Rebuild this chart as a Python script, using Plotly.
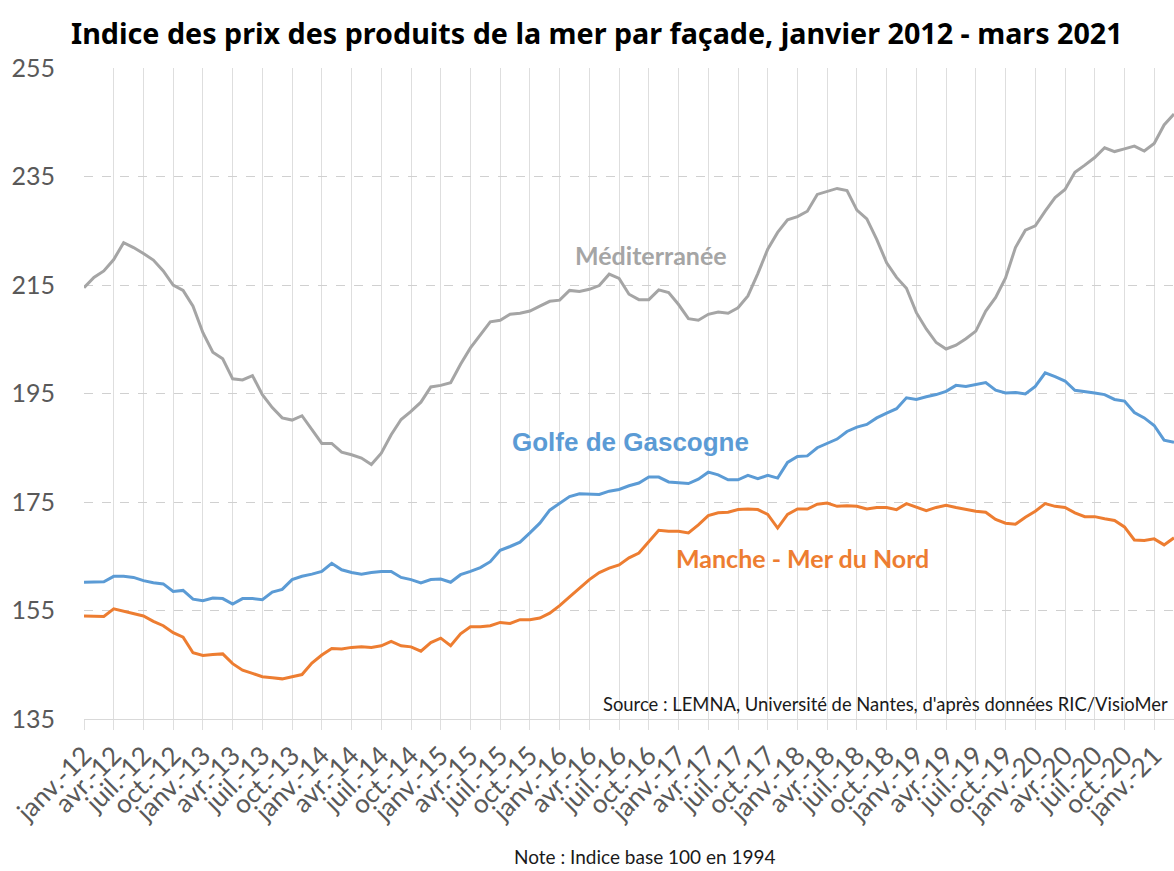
import plotly.graph_objects as go

# Monthly values, janvier 2012 -> mars 2021 (111 months)
mediterranee = [
    214.5, 216.4, 217.6, 219.7, 222.8, 221.9, 220.8, 219.6, 217.6, 215.0,
    214.0, 211.1, 206.2, 202.6, 201.4, 197.7, 197.5, 198.3, 194.8, 192.4,
    190.5, 190.1, 190.9, 188.4, 185.8, 185.8, 184.2, 183.7, 183.1, 181.9,
    184.0, 187.4, 190.2, 191.7, 193.4, 196.2, 196.5, 197.0, 200.4, 203.4,
    205.9, 208.2, 208.5, 209.6, 209.8, 210.2, 211.1, 212.0, 212.2, 214.0,
    213.8, 214.2, 214.9, 217.0, 216.2, 213.3, 212.3, 212.3, 214.1, 213.6,
    211.4, 208.8, 208.5, 209.6, 210.0, 209.8, 210.8, 213.0, 217.1, 221.6,
    224.7, 227.0, 227.6, 228.6, 231.7, 232.2, 232.8, 232.4, 228.8, 227.2,
    223.4, 219.1, 216.4, 214.4, 209.9, 206.9, 204.4, 203.2, 203.9, 205.1,
    206.5, 210.2, 212.7, 216.3, 221.9, 225.1, 225.9, 228.6, 231.1, 232.6,
    235.8, 237.1, 238.5, 240.3, 239.6, 240.1, 240.6, 239.7, 241.1, 244.5,
    246.5,
]

golfe_gascogne = [
    160.2, 160.2, 160.3, 161.3, 161.3, 161.1, 160.5, 160.1, 159.9, 158.5,
    158.7, 157.1, 156.8, 157.3, 157.2, 156.2, 157.2, 157.2, 157.0, 158.4,
    158.9, 160.7, 161.3, 161.7, 162.2, 163.7, 162.5, 162.0, 161.7, 162.0,
    162.2, 162.2, 161.1, 160.7, 160.1, 160.7, 160.8, 160.2, 161.6, 162.2,
    162.9, 164.0, 166.1, 166.8, 167.6, 169.3, 171.1, 173.5, 174.8, 176.0,
    176.5, 176.5, 176.4, 177.0, 177.3, 178.0, 178.5, 179.6, 179.6, 178.7,
    178.6, 178.4, 179.2, 180.5, 180.0, 179.1, 179.1, 179.9, 179.3, 179.9,
    179.4, 182.3, 183.4, 183.5, 185.0, 185.8, 186.6, 188.0, 188.8, 189.3,
    190.5, 191.4, 192.2, 194.2, 193.9, 194.4, 194.8, 195.4, 196.5, 196.3,
    196.7, 197.0, 195.6, 195.1, 195.2, 194.9, 196.3, 198.8, 198.1, 197.3,
    195.6, 195.4, 195.1, 194.8, 193.9, 193.6, 191.5, 190.5, 189.1, 186.4,
    186.0,
]

manche_mer_du_nord = [
    154.0, 154.0, 153.9, 155.3, 154.9, 154.5, 154.0, 153.0, 152.2, 150.9,
    150.1, 147.2, 146.7, 146.9, 147.0, 145.2, 144.0, 143.4, 142.8, 142.6,
    142.4, 142.8, 143.2, 145.3, 146.8, 148.0, 147.9, 148.2, 148.3, 148.2,
    148.5, 149.3, 148.5, 148.3, 147.5, 149.1, 149.9, 148.5, 150.7, 152.0,
    152.0, 152.2, 152.8, 152.6, 153.3, 153.3, 153.6, 154.5, 155.9, 157.5,
    159.1, 160.7, 162.0, 162.8, 163.4, 164.7, 165.6, 167.7, 169.8, 169.6,
    169.6, 169.3, 170.8, 172.5, 173.0, 173.1, 173.6, 173.7, 173.6, 172.7,
    170.2, 172.7, 173.7, 173.7, 174.6, 174.8, 174.2, 174.3, 174.2, 173.7,
    174.0, 174.0, 173.6, 174.7, 174.0, 173.4, 174.0, 174.4, 174.0, 173.6,
    173.3, 173.1, 171.8, 171.1, 170.9, 172.2, 173.3, 174.7, 174.2, 174.0,
    173.0, 172.3, 172.3, 171.9, 171.6, 170.4, 168.0, 167.9, 168.2, 167.1,
    168.4,
]

tick_labels = [
    "janv.-12", "avr.-12", "juil.-12", "oct.-12",
    "janv.-13", "avr.-13", "juil.-13", "oct.-13",
    "janv.-14", "avr.-14", "juil.-14", "oct.-14",
    "janv.-15", "avr.-15", "juil.-15", "oct.-15",
    "janv.-16", "avr.-16", "juil.-16", "oct.-16",
    "janv.-17", "avr.-17", "juil.-17", "oct.-17",
    "janv.-18", "avr.-18", "juil.-18", "oct.-18",
    "janv.-19", "avr.-19", "juil.-19", "oct.-19",
    "janv.-20", "avr.-20", "juil.-20", "oct.-20",
    "janv.-21",
]
tick_step = 3  # one label every quarter
y_ticks = [135, 155, 175, 195, 215, 235, 255]

months = list(range(len(mediterranee)))
tick_positions = [k * tick_step for k in range(len(tick_labels))]

GRAY = "#A5A5A5"
BLUE = "#5B9BD5"
ORANGE = "#ED7D31"

fig = go.Figure()
for name, vals, col in [
    ("Méditerranée", mediterranee, GRAY),
    ("Golfe de Gascogne", golfe_gascogne, BLUE),
    ("Manche - Mer du Nord", manche_mer_du_nord, ORANGE),
]:
    fig.add_trace(go.Scatter(
        x=months, y=vals, mode="lines", name=name,
        line=dict(color=col, width=3), showlegend=False,
    ))

W, H = 1174, 871
L, R, T = 84, 0, 68
B = H - 719

fig.update_layout(
    width=W, height=H,
    margin=dict(l=L, r=R, t=T, b=B, autoexpand=False),
    paper_bgcolor="white", plot_bgcolor="white",
    xaxis=dict(
        range=[0, len(mediterranee) - 1],
        tickmode="array", tickvals=tick_positions, ticktext=tick_labels,
        tickangle=-45,
        tickfont=dict(family="Lato", size=26, color="#595959"),
        showgrid=True, gridcolor="#DEDEDE", gridwidth=1,
        ticks="outside", ticklen=10, tickcolor="#DEDEDE",
        showline=True, linecolor="#D9D9D9", linewidth=1,
        zeroline=False, automargin=False,
    ),
    yaxis=dict(
        range=[135, 255],
        tickmode="array", tickvals=y_ticks,
        tickfont=dict(family="Lato", size=25, color="#595959"),
        showgrid=True, gridcolor="#D0D0D0", gridwidth=1, griddash="dash",
        zeroline=False, showline=False, ticks="", ticklabelstandoff=28,
        automargin=False,
    ),
)

plot_w = W - L - R
plot_h = H - T - B

def px(xp):
    return (xp - L) / plot_w

def py(yp):
    return (H - B - yp) / plot_h

fig.add_annotation(
    text="<b>Indice des prix des produits de la mer par façade, janvier 2012 - mars 2021</b>",
    xref="paper", yref="paper", x=px(597), y=py(32),
    xanchor="center", yanchor="middle", showarrow=False,
    font=dict(family="Noto Sans", size=28.7, color="#000000"),
)
fig.add_annotation(
    text="<b>Méditerranée</b>", xref="paper", yref="paper",
    x=px(651), y=py(255), xanchor="center", yanchor="middle", showarrow=False,
    font=dict(family="Lato", size=25, color=GRAY),
)
fig.add_annotation(
    text="<b>Golfe de Gascogne</b>", xref="paper", yref="paper",
    x=px(630), y=py(442), xanchor="center", yanchor="middle", showarrow=False,
    font=dict(family="Liberation Sans", size=26, color=BLUE),
)
fig.add_annotation(
    text="<b>Manche - Mer du Nord</b>", xref="paper", yref="paper",
    x=px(802), y=py(558), xanchor="center", yanchor="middle", showarrow=False,
    font=dict(family="Lato", size=25, color=ORANGE),
)
fig.add_annotation(
    text="Source : LEMNA, Université de Nantes, d'après données RIC/VisioMer",
    xref="paper", yref="paper", x=px(1170), y=py(704),
    xanchor="right", yanchor="middle", showarrow=False,
    font=dict(family="Lato", size=18.4, color="#1A1A1A"),
)
fig.add_annotation(
    text="Note : Indice base 100 en 1994",
    xref="paper", yref="paper", x=px(645), y=py(869),
    xanchor="center", yanchor="bottom", showarrow=False, borderpad=0,
    font=dict(family="Lato", size=19, color="#1A1A1A"),
)

fig.write_html(
    "out.html",
    config={"displayModeBar": False},
    post_script="document.body.style.margin='0';document.body.style.overflow='hidden';",
)
